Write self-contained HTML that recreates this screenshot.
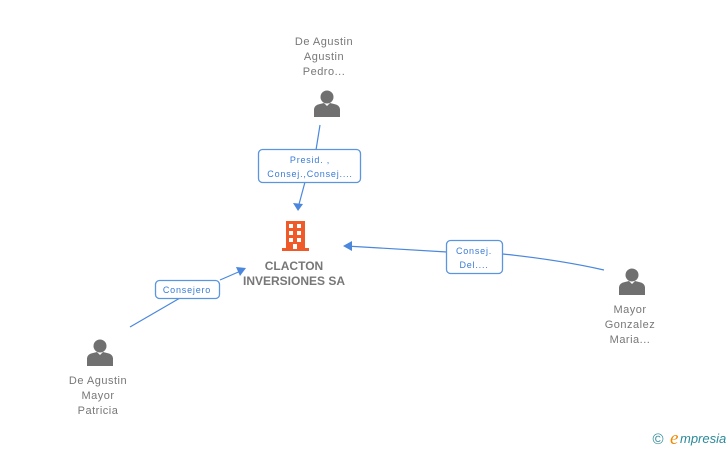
<!DOCTYPE html>
<html><head><meta charset="utf-8"><style>
body{margin:0;background:#fff;}
svg{display:block;font-family:"Liberation Sans",sans-serif;}
.n{font-size:11px;fill:#777;text-anchor:middle;letter-spacing:0.5px}
.l{font-size:9px;fill:#3a7bd5;text-anchor:middle;letter-spacing:0.8px}
.b{fill:#fff;stroke:#5b95e0;stroke-width:1.3}
.e{stroke:#4a87dd;stroke-width:1.2;fill:none}
</style></head><body>
<svg width="728" height="450" viewBox="0 0 728 450">
<defs>
<g id="p"><circle cx="0" cy="-7" r="6.5" fill="#707070"/><path d="M-13,13 L-13,6 Q-13,1 -7,0 L-3,-1 L0,2 L3,-1 L7,0 Q13,1 13,6 L13,13 Z" fill="#707070"/></g>
</defs>
<path class="e" d="M320,125 L316,150"/>
<path class="e" d="M305,182 L298,208"/>
<path d="M293,203 L298,211 L303,204 Z" fill="#4a87dd"/>
<path class="e" d="M604,270 Q560,260 503,254"/>
<path class="e" d="M447,252 L346,246"/>
<path d="M352,241 L343,246 L352,251 Z" fill="#4a87dd"/>
<path class="e" d="M130,327 L180,298"/>
<path class="e" d="M220,280 L243,270"/>
<path d="M236,267 L246,268 L240,276 Z" fill="#4a87dd"/>
<rect class="b" x="258.5" y="149.5" width="102" height="33" rx="4"/>
<text class="l" x="310" y="163">Presid. ,</text>
<text class="l" x="310" y="177">Consej.,Consej....</text>
<rect class="b" x="446.5" y="240.5" width="56" height="33" rx="4"/>
<text class="l" x="474" y="254">Consej.</text>
<text class="l" x="474" y="268">Del....</text>
<rect class="b" x="155.5" y="280.5" width="64" height="18" rx="4"/>
<text class="l" x="187" y="293">Consejero</text>
<g fill="#f05a28">
<rect x="286" y="221" width="19" height="28"/>
<rect x="282" y="248" width="27" height="3"/>
</g>
<g fill="#fff">
<rect x="289" y="224" width="4" height="4"/><rect x="297" y="224" width="4" height="4"/>
<rect x="289" y="231" width="4" height="4"/><rect x="297" y="231" width="4" height="4"/>
<rect x="289" y="238" width="4" height="4"/><rect x="297" y="238" width="4" height="4"/>
<rect x="293" y="244" width="4" height="5"/>
</g>
<text x="294" y="270" font-size="12" font-weight="bold" fill="#777" text-anchor="middle">CLACTON</text>
<text x="294" y="285" font-size="12" font-weight="bold" fill="#777" text-anchor="middle">INVERSIONES SA</text>
<use href="#p" x="327" y="104"/>
<text class="n" x="324" y="45">De Agustin</text>
<text class="n" x="324" y="60">Agustin</text>
<text class="n" x="324" y="75">Pedro...</text>
<use href="#p" x="632" y="282"/>
<text class="n" x="630" y="313">Mayor</text>
<text class="n" x="630" y="328">Gonzalez</text>
<text class="n" x="630" y="343">Maria...</text>
<use href="#p" x="100" y="353"/>
<text class="n" x="98" y="384">De Agustin</text>
<text class="n" x="98" y="399">Mayor</text>
<text class="n" x="98" y="414">Patricia</text>
<text x="658" y="444" font-size="15" fill="#2a8a9a" text-anchor="middle">©</text>
<text x="670" y="444" font-size="19" font-style="italic" fill="#f08a00" font-family="Liberation Serif,serif">e</text>
<text x="680" y="443" font-size="13" font-style="italic" fill="#2a8a9a">mpresia</text>
</svg>
</body></html>
